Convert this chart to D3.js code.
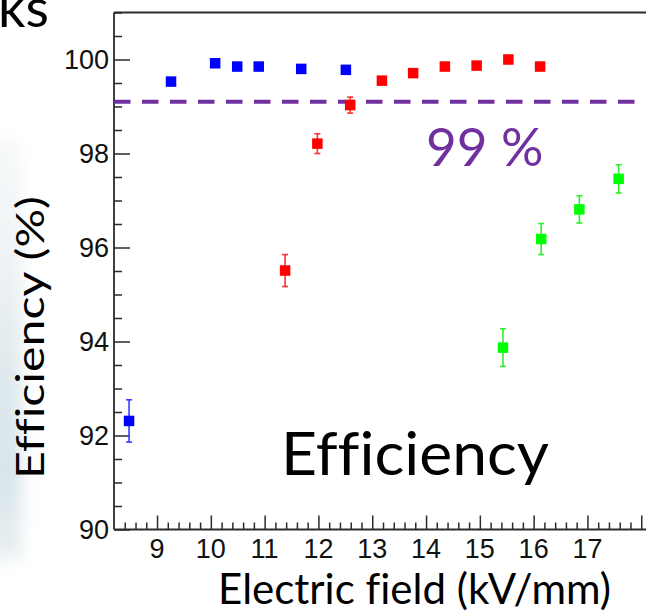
<!DOCTYPE html>
<html>
<head>
<meta charset="utf-8">
<script src="https://cdn.jsdelivr.net/npm/d3@7"></script>
<style>
  html, body { margin: 0; padding: 0; background: #fff; }
  svg { display: block; }
  text { font-variant-ligatures: none; font-feature-settings: "liga" 0; }
</style>
</head>
<body>
<svg id="chart" width="646" height="613"></svg>
<script>
// Efficiency vs electric field, three detector series
const blueField = [8.48, 9.26, 10.08, 10.49, 10.89, 11.68, 12.51];
const blueEff   = [92.31, 99.53, 99.92, 99.85, 99.85, 99.80, 99.78];
const blueErr   = [0.45, 0.08, 0.03, 0.03, 0.03, 0.03, 0.03];

const redField = [11.38, 11.98, 12.59, 13.18, 13.76, 14.35, 14.94, 15.53, 16.12];
const redEff   = [95.51, 98.21, 99.03, 99.55, 99.71, 99.85, 99.87, 100.0, 99.85];
const redErr   = [0.34, 0.21, 0.17, 0.07, 0.04, 0.03, 0.03, 0.02, 0.03];

const greenField = [15.43, 16.14, 16.85, 17.58];
const greenEff   = [93.87, 96.18, 96.81, 97.46];
const greenErr   = [0.40, 0.33, 0.29, 0.30];

const threshold = 99.1;
const xTickLabels = [9, 10, 11, 12, 13, 14, 15, 16, 17];
const yTickLabels = [90, 92, 94, 96, 98, 100];

const series = [
  { color: "#0000ff", bar: "#3a3aff", x: blueField, y: blueEff, e: blueErr },
  { color: "#ff0000", bar: "#ff3030", x: redField, y: redEff, e: redErr },
  { color: "#00ff00", bar: "#30f030", x: greenField, y: greenEff, e: greenErr }
];

const svg = d3.select("#chart");
const slideFont = "Lato, 'Open Sans', sans-serif";
const axisFont = "'Liberation Sans', Arial, sans-serif";

// faint slide background showing at the left edge
const defs = svg.append("defs");
const blur = defs.append("filter").attr("id", "soft").attr("x", "-50%").attr("y", "-20%")
  .attr("width", "200%").attr("height", "140%");
blur.append("feGaussianBlur").attr("stdDeviation", 8);
const grad = defs.append("linearGradient").attr("id", "bg").attr("x1", 0).attr("y1", 0).attr("x2", 0).attr("y2", 1);
[[0, "#f7f9fa"], [0.3, "#edf2f4"], [0.6, "#dde8ec"], [0.8, "#d8e5ea"], [1, "#eaf0f2"]]
  .forEach(([o, c]) => grad.append("stop").attr("offset", o).attr("stop-color", c));
svg.append("rect").attr("x", -20).attr("y", 140).attr("width", 42).attr("height", 420)
  .attr("fill", "url(#bg)").attr("filter", "url(#soft)");

const x = d3.scaleLinear().domain([8.2, 18.2]).range([114, 652]);
const y = d3.scaleLinear().domain([90, 101]).range([529.5, 12.5]);

// frame
const frameColor = "#2b2b2b";
svg.append("line").attr("x1", 114).attr("x2", 646).attr("y1", y(101)).attr("y2", y(101))
  .attr("stroke", frameColor).attr("stroke-width", 1.8);

// y axis with inward ticks
const yMinor = d3.range(90, 101.01, 0.5).filter(v => Math.abs(v % 2) > 1e-6);
const yAxisMinor = d3.axisRight(y).tickValues(yMinor).tickSize(8).tickFormat("");
const yAxisMajor = d3.axisRight(y).tickValues(yTickLabels).tickSize(16).tickFormat("");
[yAxisMinor, yAxisMajor].forEach(ax => {
  const g = svg.append("g").attr("transform", "translate(114,0)").call(ax);
  g.select(".domain").remove();
  g.selectAll("line").attr("stroke", frameColor).attr("stroke-width", 1.5);
});
svg.append("line").attr("x1", 114).attr("x2", 114).attr("y1", y(101)).attr("y2", y(90))
  .attr("stroke", frameColor).attr("stroke-width", 1.8);
svg.append("g").selectAll("text").data(yTickLabels).join("text")
  .attr("x", 109).attr("y", d => y(d)).attr("dy", "0.36em")
  .attr("text-anchor", "end").attr("font-family", axisFont).attr("font-size", 27)
  .attr("fill", "#111").text(d => d);

// x axis with inward ticks
const xMinor = d3.range(8.4, 18.2, 0.2).filter(v => Math.abs(v - Math.round(v)) > 1e-6);
const xAxisMinor = d3.axisTop(x).tickValues(xMinor).tickSize(7).tickFormat("");
const xAxisMajor = d3.axisTop(x).tickValues(xTickLabels.concat([18])).tickSize(14).tickFormat("");
[xAxisMinor, xAxisMajor].forEach(ax => {
  const g = svg.append("g").attr("transform", `translate(0,${y(90)})`).call(ax);
  g.select(".domain").remove();
  g.selectAll("line").attr("stroke", frameColor).attr("stroke-width", 1.5);
});
svg.append("line").attr("x1", 114).attr("x2", 646).attr("y1", y(90)).attr("y2", y(90))
  .attr("stroke", frameColor).attr("stroke-width", 1.8);
svg.append("g").selectAll("text").data(xTickLabels).join("text")
  .attr("x", d => x(d)).attr("y", 558)
  .attr("text-anchor", "middle").attr("font-family", axisFont).attr("font-size", 27)
  .attr("fill", "#111").text(d => d);

// 99 % reference line
svg.append("line").attr("x1", 114).attr("x2", 638).attr("y1", y(threshold)).attr("y2", y(threshold))
  .attr("stroke", "#7030a0").attr("stroke-width", 4).attr("stroke-dasharray", "16.5 11.5");
svg.append("text").attr("x", 426).attr("y", 166).attr("font-family", slideFont)
  .attr("font-size", 53).attr("fill", "#7030a0").text("99 %");

// data points with error bars
const m = 10.5;
series.forEach(s => {
  const pts = s.x.map((v, i) => ({ fx: v, ef: s.y[i], er: s.e[i] }));
  const g = svg.append("g");
  g.selectAll("line.bar").data(pts).join("line").attr("class", "bar")
    .attr("x1", d => x(d.fx)).attr("x2", d => x(d.fx))
    .attr("y1", d => y(d.ef + d.er)).attr("y2", d => y(d.ef - d.er))
    .attr("stroke", s.bar).attr("stroke-width", 1.6);
  [1, -1].forEach(sign => {
    g.selectAll(null).data(pts).join("line")
      .attr("x1", d => x(d.fx) - 3).attr("x2", d => x(d.fx) + 3)
      .attr("y1", d => y(d.ef + sign * d.er)).attr("y2", d => y(d.ef + sign * d.er))
      .attr("stroke", s.bar).attr("stroke-width", 1.6);
  });
  g.selectAll("rect").data(pts).join("rect")
    .attr("x", d => x(d.fx) - m / 2).attr("y", d => y(d.ef) - m / 2)
    .attr("width", m).attr("height", m).attr("fill", s.color);
});

// axis titles and slide text
svg.append("text").attr("x", 611).attr("y", 604).attr("text-anchor", "end")
  .attr("font-family", slideFont).attr("font-size", 42).attr("fill", "#000")
  .text("Electric field (kV/mm)");
svg.append("text").attr("transform", "translate(44,479) rotate(-90)")
  .attr("font-family", slideFont).attr("font-size", 38).attr("fill", "#000")
  .attr("textLength", 283).attr("lengthAdjust", "spacingAndGlyphs")
  .text("Efficiency (%)");
svg.append("text").attr("x", 281).attr("y", 475)
  .attr("font-family", slideFont).attr("font-size", 60).attr("fill", "#000")
  .attr("textLength", 268).attr("lengthAdjust", "spacingAndGlyphs")
  .text("Efficiency");
svg.append("text").attr("x", -2).attr("y", 27)
  .attr("font-family", slideFont).attr("font-size", 54).attr("fill", "#000")
  .text("ks");
</script>
</body>
</html>
